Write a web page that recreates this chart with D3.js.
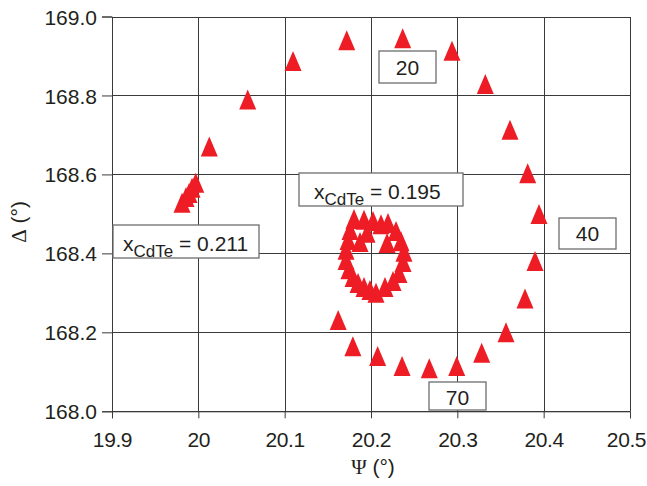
<!DOCTYPE html>
<html>
<head>
<meta charset="utf-8">
<script src="https://cdn.jsdelivr.net/npm/d3@7"></script>
<style>
  html, body { margin: 0; padding: 0; background: #fff; }
  svg { display: block; }
  text { font-family: "Liberation Sans", Arial, Helvetica, sans-serif; fill: #231f20; }
</style>
</head>
<body>
<svg id="chart" width="647" height="486"></svg>
<script>
// Ellipsometric trajectory: Psi (x) vs Delta (y), two CdTe compositions.
const psiOuter = [19.9811, 19.9857, 19.9892, 19.9927, 19.9970, 20.0127, 20.0572, 20.1097,
  20.1719, 20.2367, 20.2938, 20.3324, 20.3610, 20.3815, 20.3946, 20.3900, 20.3784,
  20.3564, 20.3282, 20.2993, 20.2675, 20.2360, 20.2077, 20.1790, 20.1620];
const deltaOuter = [168.528, 168.543, 168.553, 168.566, 168.579, 168.671, 168.790, 168.887,
  168.940, 168.945, 168.913, 168.829, 168.713, 168.603, 168.500, 168.381, 168.286,
  168.200, 168.148, 168.115, 168.109, 168.115, 168.140, 168.165, 168.231];

const psiInner = [20.1757, 20.1803, 20.1919, 20.2023, 20.2116, 20.2197, 20.2290, 20.2348,
  20.2382, 20.2371, 20.2324, 20.2255, 20.2162, 20.2058, 20.1988, 20.1919, 20.1850,
  20.1792, 20.1745, 20.1711, 20.1711, 20.1734, 20.1873, 20.1954, 20.2186];
const deltaInner = [168.459, 168.487, 168.485, 168.482, 168.474, 168.477, 168.457, 168.431,
  168.404, 168.378, 168.350, 168.330, 168.315, 168.300, 168.307, 168.315, 168.325,
  168.340, 168.360, 168.383, 168.409, 168.434, 168.429, 168.452, 168.426];

const xTicks = [19.9, 20.0, 20.1, 20.2, 20.3, 20.4, 20.5];
const xTickLabels = ["19.9", "20", "20.1", "20.2", "20.3", "20.4", "20.5"];
const yTicks = [168.0, 168.2, 168.4, 168.6, 168.8, 169.0];
const yTickLabels = ["168.0", "168.2", "168.4", "168.6", "168.8", "169.0"];

// Annotation boxes: angle-of-incidence markers and compositions
const angleLabels = ["20", "40", "70"];
const compLabels = ["0.195", "0.211"];

const svg = d3.select("#chart");
const plotL = 112, plotR = 630, plotT = 16.5, plotB = 411.3;

const x = d3.scaleLinear().domain([19.9, 20.5]).range([plotL, plotR]);
const y = d3.scaleLinear().domain([168.0, 169.0]).range([plotB, plotT]);

// grid
const grid = svg.append("g").attr("shape-rendering", "crispEdges");
grid.selectAll("line.v").data(xTicks).join("line")
  .attr("x1", d => Math.round(x(d)) + 0.5).attr("x2", d => Math.round(x(d)) + 0.5)
  .attr("y1", plotT).attr("y2", plotB)
  .attr("stroke", "#3a3a3a").attr("stroke-width", 1);
grid.selectAll("line.h").data(yTicks).join("line")
  .attr("y1", d => Math.round(y(d)) + 0.5).attr("y2", d => Math.round(y(d)) + 0.5)
  .attr("x1", plotL).attr("x2", plotR)
  .attr("stroke", "#3a3a3a").attr("stroke-width", 1);

// axes
const xAxis = d3.axisBottom(x).tickValues(xTicks).tickSize(7).tickPadding(14)
  .tickFormat((d, i) => xTickLabels[i]);
const gx = svg.append("g").attr("transform", `translate(0,${plotB})`).call(xAxis);
const yAxis = d3.axisLeft(y).tickValues(yTicks).tickSize(10).tickPadding(5)
  .tickFormat((d, i) => yTickLabels[i]);
const gy = svg.append("g").attr("transform", `translate(${plotL},0)`).call(yAxis);
[gx, gy].forEach(g => {
  g.select(".domain").attr("stroke", "#3a3a3a");
  g.selectAll(".tick line").attr("stroke", "#3a3a3a");
  g.selectAll(".tick text").attr("font-size", 21).attr("fill", "#231f20")
    .attr("font-family", '"Liberation Sans", Arial, sans-serif');
});
gy.selectAll(".tick text").attr("dy", "0.36em");
gx.selectAll(".tick text").attr("dy", "0.72em").attr("letter-spacing", -0.4);
// keep the last label inside the window
gx.selectAll(".tick text").filter(d => d === 20.5).attr("dx", -4);

// axis titles
const xt = svg.append("text").attr("x", 373).attr("y", 474).attr("text-anchor", "middle")
  .attr("font-size", 21);
xt.append("tspan").attr("font-family", '"Liberation Serif", "Times New Roman", serif').text("Ψ");
xt.append("tspan").text(" (°)");
const yt = svg.append("text").attr("transform", "translate(26,222) rotate(-90)")
  .attr("text-anchor", "middle").attr("font-size", 21);
yt.append("tspan").attr("font-family", '"Liberation Serif", "Times New Roman", serif').text("Δ");
yt.append("tspan").text(" (°)");

// markers: upward triangles centred on the data point
const tri = "M0,-10L8.5,10L-8.5,10Z";
const red = "#ee1c25";
const outer = psiOuter.map((p, i) => [p, deltaOuter[i]]);
const inner = psiInner.map((p, i) => [p, deltaInner[i]]);
svg.append("g").selectAll("path").data(outer.concat(inner)).join("path")
  .attr("d", tri)
  .attr("transform", d => `translate(${x(d[0])},${y(d[1])})`)
  .attr("fill", red);

// annotation boxes
function box(bx, by, bw, bh) {
  svg.append("rect").attr("x", bx).attr("y", by).attr("width", bw).attr("height", bh)
    .attr("fill", "#fff").attr("stroke", "#6d6d6d").attr("stroke-width", 1.3);
}
function angleBox(label, bx, by, bw, bh, base) {
  box(bx, by, bw, bh);
  svg.append("text").attr("x", bx + bw / 2).attr("y", base).attr("text-anchor", "middle")
    .attr("font-size", 21).text(label);
}
function compBox(value, bx, by, bw, bh, tx, base) {
  box(bx, by, bw, bh);
  const t = svg.append("text").attr("x", tx).attr("y", base).attr("font-size", 21);
  t.append("tspan").text("x");
  t.append("tspan").attr("font-size", 17).attr("dy", 6).text("CdTe");
  t.append("tspan").attr("dy", -6).text(" = " + value);
}
angleBox(angleLabels[0], 379, 51, 57, 32, 75);
angleBox(angleLabels[1], 559, 218, 57, 31, 241);
angleBox(angleLabels[2], 429, 382, 57, 28, 405);
compBox(compLabels[0], 299, 173, 164, 33, 314, 199);
compBox(compLabels[1], 113, 225, 146, 33, 123, 251);
</script>
</body>
</html>
